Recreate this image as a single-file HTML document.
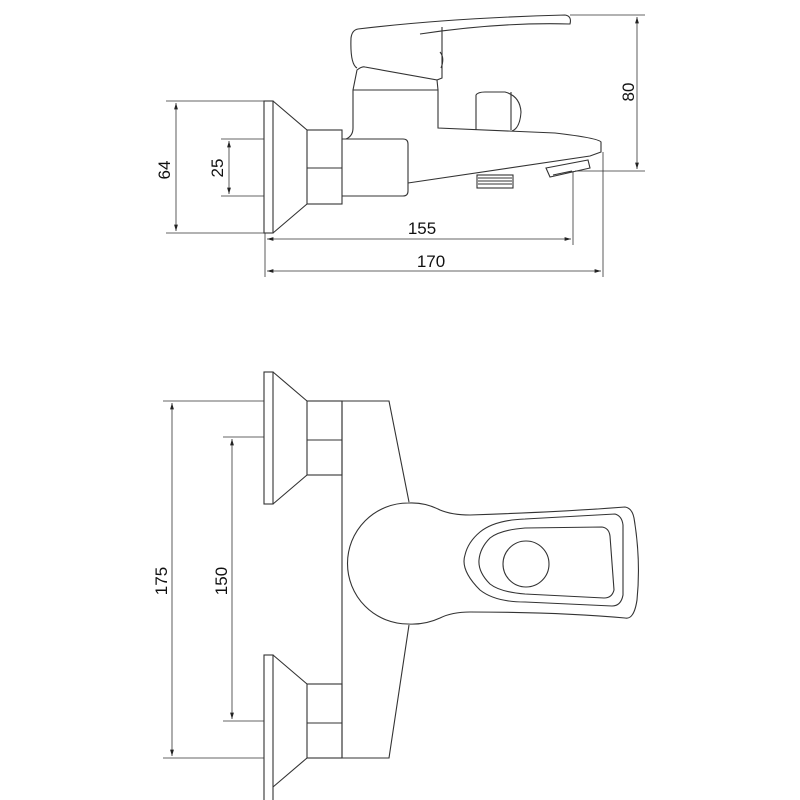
<!DOCTYPE html>
<html><head><style>body{margin:0;background:#fff}svg{display:block}</style></head>
<body>
<svg width="800" height="800" viewBox="0 0 800 800" xmlns="http://www.w3.org/2000/svg">
<defs>
<marker id="a" viewBox="0 0 10 6" refX="10" refY="3" markerWidth="8" markerHeight="5" orient="auto-start-reverse"><path d="M0,0 L10,3 L0,6 z" fill="#222"/></marker>
</defs>
<g fill="none" stroke="#333" stroke-width="1.1">
<rect x="264" y="101" width="9" height="132"/>
<path d="M273,101 L307,130 M273,233 L307,204"/>
<rect x="307" y="130" width="35" height="74"/>
<line x1="307" y1="168" x2="342" y2="168"/>
<path d="M342,139 L403,139 Q408,139 408,144 L408,191 Q408,196 403,196 L342,196"/>
<path d="M346,139 Q353,136 353,128 L353,90 L438,90 L438,128 L555,133 Q598,138 601,142 L601,152 L590,156 L408,183"/>
<path d="M353,90 L357,70 Q362,66 365,67 L437,80 L438,90"/>
<path d="M357,68 Q350,64 351,38 Q352,30 358,29 Q450,18 565,15 Q572,16 570,24 Q500,22 420,34"/>
<path d="M437,80 L442,78 L442,27"/>
<path d="M440,52 Q445,58 441,68"/>
<path d="M476,130 L476,95 Q478,92 485,92 L505,92 Q520,96 521,112 Q520,128 512,131"/>
<line x1="511" y1="92" x2="511" y2="130"/>
<rect x="477" y="175" width="36" height="13"/>
<path d="M478,178h34M478,181h34M478,184h34"/>
<path d="M546,168 L588,160 L590,168 L550,177 Z M553,175 L572,171"/>
<path d="M570,15 H645 M575,171 H645 M166,101 H264 M166,233 H264 M221,139 H264 M221,196 H264 M573,171 V245 M265,233 V277 M603,152 V277" stroke-width="0.8"/>
<line x1="637" y1="17" x2="637" y2="169" marker-start="url(#a)" marker-end="url(#a)" stroke-width="0.8"/>
<line x1="176" y1="103" x2="176" y2="231" marker-start="url(#a)" marker-end="url(#a)" stroke-width="0.8"/>
<line x1="229" y1="141" x2="229" y2="194" marker-start="url(#a)" marker-end="url(#a)" stroke-width="0.8"/>
<line x1="267" y1="239" x2="571" y2="239" marker-start="url(#a)" marker-end="url(#a)" stroke-width="0.8"/>
<line x1="267" y1="271" x2="601" y2="271" marker-start="url(#a)" marker-end="url(#a)" stroke-width="0.8"/>

<rect x="264" y="372" width="9" height="132"/>
<path d="M273,372 L307,401 M273,504 L307,475"/>
<rect x="307" y="401" width="35" height="74"/>
<line x1="307" y1="440" x2="342" y2="440"/>
<rect x="264" y="655" width="9" height="150"/>
<path d="M273,655 L307,684 M273,787 L307,758"/>
<rect x="307" y="684" width="35" height="74"/>
<line x1="307" y1="723" x2="342" y2="723"/>
<path d="M342,401 V758 M342,401 H389 L409,502 M342,758 H389 L409,625"/>
<path d="M408,503 Q425,502 440,510 Q452,515 470,515 Q560,512 625,507 Q632,508 634,518 Q641,560 637,600 Q634,620 625,618 Q560,612 470,612 Q452,612 440,618 Q425,625 408,624 A60,60 0 0 1 408,503 Z"/>
<path d="M480,532 Q495,520 525,519 L615,514 Q622,516 623,525 L623,595 Q621,606 612,606 L525,602 Q495,602 480,590 Q460,570 465,555 Q468,542 480,532 Z"/>
<path d="M490,538 Q500,530 525,528 L602,527 Q609,528 610,536 L614,590 Q612,598 604,598 L525,594 Q500,592 490,584 Q478,572 479,560 Q480,548 490,538 Z"/>
<circle cx="526" cy="564" r="23"/>
<path d="M163,401 H264 M223,437 H264 M223,721 H264 M163,758 H264" stroke-width="0.8"/>
<line x1="172" y1="403" x2="172" y2="756" marker-start="url(#a)" marker-end="url(#a)" stroke-width="0.8"/>
<line x1="232" y1="439" x2="232" y2="719" marker-start="url(#a)" marker-end="url(#a)" stroke-width="0.8"/>
</g>
<g font-family="Liberation Sans, sans-serif" font-size="17" fill="#111" text-anchor="middle">
<text transform="translate(634,92) rotate(-90)">80</text>
<text transform="translate(170,170) rotate(-90)">64</text>
<text transform="translate(223,168) rotate(-90)">25</text>
<text x="422" y="234">155</text>
<text x="431" y="267">170</text>
<text transform="translate(167,581) rotate(-90)">175</text>
<text transform="translate(227,581) rotate(-90)">150</text>
</g>
</svg>
</body></html>
